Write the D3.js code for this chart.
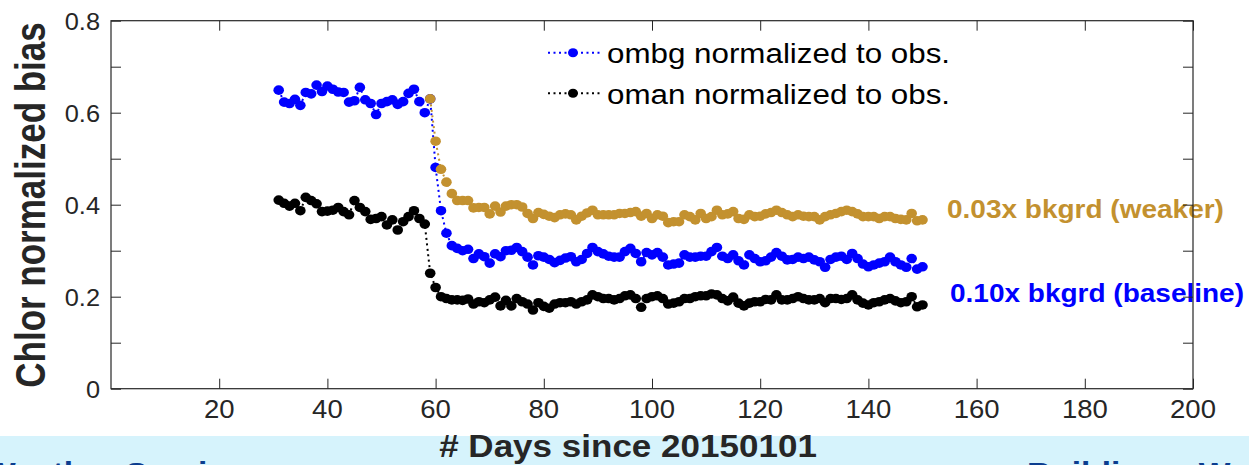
<!DOCTYPE html>
<html>
<head>
<meta charset="utf-8">
<script src="https://cdn.jsdelivr.net/npm/d3@7"></script>
<style>
  html, body { margin: 0; padding: 0; background: #fff; }
  svg { display: block; }
  text { font-family: "Liberation Sans", Arial, Helvetica, sans-serif; }
</style>
</head>
<body>
<svg id="chart" width="1249" height="465"></svg>
<script>
// Daily normalized chlorophyll bias, days counted from 2015-01-01
const ombgStartDay = 31;
const ombgBaseline = [
  0.649, 0.623, 0.620, 0.629, 0.616, 0.644, 0.641, 0.660, 0.646, 0.658,
  0.651, 0.645, 0.644, 0.623, 0.626, 0.655, 0.628, 0.620, 0.596, 0.620,
  0.624, 0.628, 0.618, 0.624, 0.642, 0.651, 0.624, 0.600, 0.630, 0.481,
  0.387, 0.338, 0.311, 0.305, 0.300, 0.303, 0.283, 0.293, 0.287, 0.273,
  0.293, 0.287, 0.300, 0.301, 0.307, 0.298, 0.286, 0.269, 0.289, 0.286,
  0.281, 0.274, 0.279, 0.284, 0.287, 0.276, 0.281, 0.294, 0.307, 0.298,
  0.293, 0.288, 0.286, 0.286, 0.298, 0.305, 0.294, 0.276, 0.296, 0.291,
  0.296, 0.286, 0.269, 0.271, 0.273, 0.291, 0.286, 0.286, 0.288, 0.288,
  0.298, 0.307, 0.288, 0.283, 0.291, 0.278, 0.269, 0.291, 0.283, 0.276,
  0.278, 0.286, 0.296, 0.288, 0.280, 0.281, 0.286, 0.283, 0.286, 0.280,
  0.276, 0.264, 0.281, 0.286, 0.288, 0.281, 0.294, 0.283, 0.271, 0.265,
  0.269, 0.273, 0.276, 0.286, 0.276, 0.269, 0.264, 0.283, 0.260, 0.265
];

const omanStartDay = 31;
const omanBaseline = [
  0.410, 0.403, 0.397, 0.403, 0.387, 0.416, 0.409, 0.402, 0.385, 0.386,
  0.388, 0.394, 0.385, 0.378, 0.409, 0.394, 0.385, 0.368, 0.370, 0.374,
  0.356, 0.367, 0.345, 0.363, 0.374, 0.387, 0.370, 0.358, 0.251, 0.220,
  0.200, 0.196, 0.193, 0.193, 0.192, 0.195, 0.184, 0.189, 0.187, 0.193,
  0.199, 0.180, 0.192, 0.180, 0.196, 0.189, 0.184, 0.171, 0.187, 0.179,
  0.175, 0.184, 0.187, 0.187, 0.189, 0.184, 0.189, 0.193, 0.204, 0.200,
  0.196, 0.196, 0.193, 0.196, 0.202, 0.204, 0.196, 0.177, 0.196, 0.200,
  0.202, 0.196, 0.184, 0.186, 0.189, 0.196, 0.196, 0.200, 0.202, 0.202,
  0.206, 0.204, 0.196, 0.191, 0.199, 0.186, 0.180, 0.186, 0.189, 0.189,
  0.194, 0.193, 0.204, 0.193, 0.193, 0.196, 0.200, 0.196, 0.193, 0.193,
  0.196, 0.187, 0.196, 0.196, 0.194, 0.196, 0.204, 0.193, 0.186, 0.182,
  0.187, 0.189, 0.193, 0.196, 0.191, 0.187, 0.189, 0.200, 0.178, 0.182
];

const ombgWeakStartDay = 59;
const ombgWeaker = [
  0.630, 0.538,
  0.477, 0.449, 0.424, 0.409, 0.409, 0.409, 0.393, 0.394, 0.394, 0.380,
  0.397, 0.384, 0.397, 0.400, 0.400, 0.395, 0.381, 0.370, 0.383, 0.379,
  0.375, 0.372, 0.378, 0.380, 0.378, 0.367, 0.375, 0.382, 0.388, 0.378,
  0.378, 0.378, 0.378, 0.381, 0.381, 0.383, 0.385, 0.375, 0.381, 0.370,
  0.378, 0.375, 0.361, 0.363, 0.363, 0.378, 0.374, 0.367, 0.381, 0.370,
  0.374, 0.388, 0.378, 0.380, 0.385, 0.370, 0.368, 0.378, 0.374, 0.375,
  0.380, 0.383, 0.388, 0.383, 0.378, 0.374, 0.378, 0.375, 0.374, 0.374,
  0.367, 0.374, 0.378, 0.381, 0.385, 0.388, 0.385, 0.380, 0.374, 0.374,
  0.374, 0.370, 0.374, 0.374, 0.370, 0.368, 0.367, 0.381, 0.365, 0.367
];

const xTickValues = [20, 40, 60, 80, 100, 120, 140, 160, 180, 200];
const yTickValues = [0, 0.1, 0.2, 0.3, 0.4, 0.5, 0.6, 0.7, 0.8];
const yTickLabels = ["0", "", "0.2", "", "0.4", "", "0.6", "", "0.8"];

const legendLabels = ["ombg normalized to obs.", "oman normalized to obs."];
const annotationWeak = "0.03x bkgrd (weaker)";
const annotationBase = "0.10x bkgrd (baseline)";
const xTitle = "# Days since 20150101";
const yTitle = "Chlor normalized bias";

const BLUE = "#0000ff";
const BLACK = "#000000";
const GOLD = "#c3912f";
const AXIS = "#262626";

const svg = d3.select("#chart");
const plot = { left: 111, right: 1193, top: 20.7, bottom: 388.7 };

const x = d3.scaleLinear().domain([0, 200]).range([plot.left, plot.right]);
const y = d3.scaleLinear().domain([0, 0.8]).range([plot.bottom, plot.top]);

// horizontal stretch applied to all type
const SX = 1.12;

// footer band
const band = svg.append("g");
band.append("rect").attr("x", 0).attr("y", 436).attr("width", 1249).attr("height", 29).attr("fill", "#d6f3fc");
band.append("text").attr("transform", `translate(-16,483) scale(${SX},1)`)
  .attr("font-size", 30).attr("font-weight", "bold").attr("fill", "#0b3d8f").text("Weather Service");
band.append("text").attr("transform", `translate(1027,483) scale(${SX},1)`)
  .attr("font-size", 30).attr("font-weight", "bold").attr("fill", "#0b3d8f").text("Building a Weather-Ready Nation");

// series
function toPoints(values, start) {
  return values.map((v, i) => ({ day: start + i, value: v }));
}
const series = [
  { pts: toPoints(ombgBaseline, ombgStartDay), color: BLUE },
  { pts: toPoints(omanBaseline, omanStartDay), color: BLACK },
  { pts: toPoints(ombgWeaker, ombgWeakStartDay), color: GOLD }
];

const line = d3.line().x(d => x(d.day)).y(d => y(d.value));
const gData = svg.append("g");
series.forEach(s => {
  gData.append("path").datum(s.pts)
    .attr("d", line).attr("fill", "none")
    .attr("stroke", s.color).attr("stroke-width", 2)
    .attr("stroke-dasharray", "2,3.5");
  gData.selectAll(null).data(s.pts).enter().append("ellipse")
    .attr("cx", d => x(d.day)).attr("cy", d => y(d.value))
    .attr("rx", 5.3).attr("ry", 4.8)
    .attr("fill", s.color);
});

// annotations
svg.append("text").attr("transform", `translate(947,218) scale(${SX},1)`)
  .attr("font-size", 25).attr("font-weight", "bold").attr("fill", GOLD).text(annotationWeak);
svg.append("text").attr("transform", `translate(950,302) scale(${SX},1)`)
  .attr("font-size", 25).attr("font-weight", "bold").attr("fill", BLUE).text(annotationBase);

// legend
const legend = svg.append("g");
[{ c: BLUE, yy: 52.7 }, { c: BLACK, yy: 93.3 }].forEach((r, i) => {
  legend.append("line").attr("x1", 548).attr("x2", 600).attr("y1", r.yy).attr("y2", r.yy)
    .attr("stroke", r.c).attr("stroke-width", 2).attr("stroke-dasharray", "2,3.5");
  legend.append("ellipse").attr("cx", 573).attr("cy", r.yy).attr("rx", 5).attr("ry", 4.5).attr("fill", r.c);
  legend.append("text").attr("transform", `translate(607,${r.yy + 10.5}) scale(1.14,1)`)
    .attr("font-size", 27.5).attr("fill", "#000").text(legendLabels[i]);
});

// axes: inward ticks on all four sides
const tickLen = 10;
const axes = svg.append("g");
axes.append("g").attr("transform", `translate(0,${plot.bottom})`)
  .call(d3.axisBottom(x).tickValues(xTickValues).tickSize(-tickLen).tickFormat(() => ""))
  .call(g => g.select(".domain").remove());
axes.append("g").attr("transform", `translate(0,${plot.top})`)
  .call(d3.axisTop(x).tickValues(xTickValues).tickSize(-tickLen).tickFormat(() => ""))
  .call(g => g.select(".domain").remove());
axes.append("g").attr("transform", `translate(${plot.left},0)`)
  .call(d3.axisLeft(y).tickValues(yTickValues).tickSize(-tickLen).tickFormat(() => ""))
  .call(g => g.select(".domain").remove());
axes.append("g").attr("transform", `translate(${plot.right},0)`)
  .call(d3.axisRight(y).tickValues(yTickValues).tickSize(-tickLen).tickFormat(() => ""))
  .call(g => g.select(".domain").remove());
axes.selectAll(".tick line").attr("stroke", AXIS).attr("stroke-width", 1);

axes.append("rect")
  .attr("x", plot.left).attr("y", plot.top)
  .attr("width", plot.right - plot.left).attr("height", plot.bottom - plot.top)
  .attr("fill", "none").attr("stroke", AXIS).attr("stroke-width", 1.2);

// tick labels
const labels = svg.append("g");
xTickValues.forEach(v => {
  labels.append("text").attr("transform", `translate(${x(v)},418) scale(1.1,1)`)
    .attr("text-anchor", "middle").attr("font-size", 25).attr("fill", "#262626").text(v);
});
yTickValues.forEach((v, i) => {
  if (!yTickLabels[i]) return;
  labels.append("text").attr("transform", `translate(100,${y(v) + 9}) scale(1.08,1)`)
    .attr("text-anchor", "end").attr("font-size", 23.5).attr("fill", "#262626").text(yTickLabels[i]);
});

// axis titles
svg.append("text").attr("transform", `translate(628,457) scale(1.13,1)`)
  .attr("text-anchor", "middle").attr("font-size", 31).attr("font-weight", "bold")
  .attr("fill", "#262626").text(xTitle);
svg.append("text").attr("transform", `translate(45,205) scale(1.2,1) rotate(-90)`)
  .attr("text-anchor", "middle").attr("font-size", 35).attr("font-weight", "bold")
  .attr("fill", "#262626").text(yTitle);
</script>
</body>
</html>
